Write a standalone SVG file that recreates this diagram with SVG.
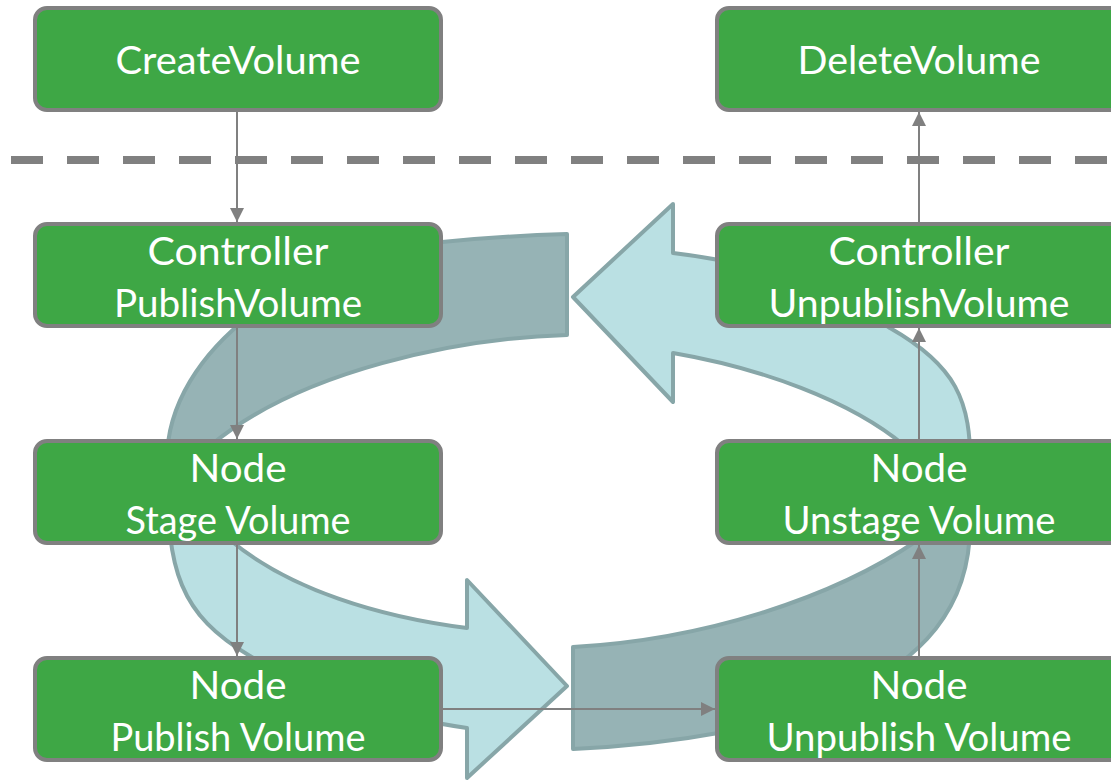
<svg xmlns="http://www.w3.org/2000/svg" width="1111" height="780" viewBox="0 0 1111 780">
  <defs>
    <style>
      .back { fill: #96b3b5; stroke: #87a6a8; stroke-width: 4; stroke-linejoin: round; }
      .front { fill: #bae0e3; stroke: #87a6a8; stroke-width: 4; stroke-linejoin: round; }
      .box { fill: #3ea745; stroke: #808080; stroke-width: 4; }
      .label { fill: #ffffff; font-family: Lato, "Open Sans", "Liberation Sans", sans-serif; font-size: 38px; text-anchor: middle; }
      .edge { fill: none; stroke: #808080; stroke-width: 2; }
      .divider { fill: none; stroke: #808080; stroke-width: 8; stroke-dasharray: 32 24; }
    </style>
    <marker id="tip" markerUnits="userSpaceOnUse" markerWidth="14" markerHeight="14" refX="14" refY="7" orient="auto">
      <path d="M0,0 L14,7 L0,14 z" fill="#808080"/>
    </marker>
  </defs>

  <rect width="1111" height="780" fill="#ffffff"/>

  <!-- lifecycle ring: back halves first, then the two front arrows -->
  <g id="ring">
    <path class="back" d="M567 234 Q500 236 442 242 C300 255 167 350 167 460 L205 460 L210 446 C300 370 460 338 567 335 Z"/>
    <path class="back" d="M573 647 C700 640 830 600 918 540 L930 520 L970 520 C972 610 920 660 840 700 C780 725 680 744 573 749 Z"/>
    <path class="front" d="M168 470 C166 570 180 615 250 656 C320 700 400 718 467 728 L467 778 L567 686 L467 580 L467 628 C380 617 290 590 230 540 L210 470 Z"/>
    <path class="front" d="M673 253 L673 204 L573 297 L673 402 L673 353 C760 368 850 400 905 446 L945 475 L970 470 C972 400 955 365 890 328 C830 285 750 262 673 253 Z"/>
  </g>

  <!-- split between cluster and node operations -->
  <line class="divider" x1="11" y1="160" x2="1111" y2="160"/>

  <g id="nodes">
    <g id="create-volume">
      <rect class="box" x="35" y="8" width="406" height="102" rx="12"/>
      <text class="label" x="238" y="74" textLength="245" lengthAdjust="spacingAndGlyphs">CreateVolume</text>
    </g>
    <g id="controller-publish-volume">
      <rect class="box" x="35" y="224" width="406" height="102" rx="12"/>
      <text class="label" x="238" y="265" textLength="181" lengthAdjust="spacingAndGlyphs">Controller</text>
      <text class="label" x="238" y="317" textLength="248" lengthAdjust="spacingAndGlyphs">PublishVolume</text>
    </g>
    <g id="node-stage-volume">
      <rect class="box" x="35" y="441" width="406" height="102" rx="12"/>
      <text class="label" x="238" y="482" textLength="97" lengthAdjust="spacingAndGlyphs">Node</text>
      <text class="label" x="238" y="534" textLength="225" lengthAdjust="spacingAndGlyphs">Stage Volume</text>
    </g>
    <g id="node-publish-volume">
      <rect class="box" x="35" y="658" width="406" height="102" rx="12"/>
      <text class="label" x="238" y="699" textLength="97" lengthAdjust="spacingAndGlyphs">Node</text>
      <text class="label" x="238" y="751" textLength="255" lengthAdjust="spacingAndGlyphs">Publish Volume</text>
    </g>
    <g id="delete-volume">
      <rect class="box" x="717" y="8" width="406" height="102" rx="12"/>
      <text class="label" x="919" y="74" textLength="243" lengthAdjust="spacingAndGlyphs">DeleteVolume</text>
    </g>
    <g id="controller-unpublish-volume">
      <rect class="box" x="717" y="224" width="406" height="102" rx="12"/>
      <text class="label" x="919" y="265" textLength="181" lengthAdjust="spacingAndGlyphs">Controller</text>
      <text class="label" x="919" y="317" textLength="301" lengthAdjust="spacingAndGlyphs">UnpublishVolume</text>
    </g>
    <g id="node-unstage-volume">
      <rect class="box" x="717" y="441" width="406" height="102" rx="12"/>
      <text class="label" x="919" y="482" textLength="97" lengthAdjust="spacingAndGlyphs">Node</text>
      <text class="label" x="919" y="534" textLength="273" lengthAdjust="spacingAndGlyphs">Unstage Volume</text>
    </g>
    <g id="node-unpublish-volume">
      <rect class="box" x="717" y="658" width="406" height="102" rx="12"/>
      <text class="label" x="919" y="699" textLength="97" lengthAdjust="spacingAndGlyphs">Node</text>
      <text class="label" x="919" y="751" textLength="305" lengthAdjust="spacingAndGlyphs">Unpublish Volume</text>
    </g>
  </g>

  <g id="connectors">
    <line class="edge" x1="237" y1="112" x2="237" y2="222" marker-end="url(#tip)"/>
    <line class="edge" x1="237" y1="328" x2="237" y2="439" marker-end="url(#tip)"/>
    <line class="edge" x1="237" y1="545" x2="237" y2="656" marker-end="url(#tip)"/>
    <line class="edge" x1="443" y1="709" x2="715" y2="709" marker-end="url(#tip)"/>
    <line class="edge" x1="919" y1="656" x2="919" y2="545" marker-end="url(#tip)"/>
    <line class="edge" x1="919" y1="439" x2="919" y2="328" marker-end="url(#tip)"/>
    <line class="edge" x1="919" y1="222" x2="919" y2="112" marker-end="url(#tip)"/>
  </g>
</svg>
